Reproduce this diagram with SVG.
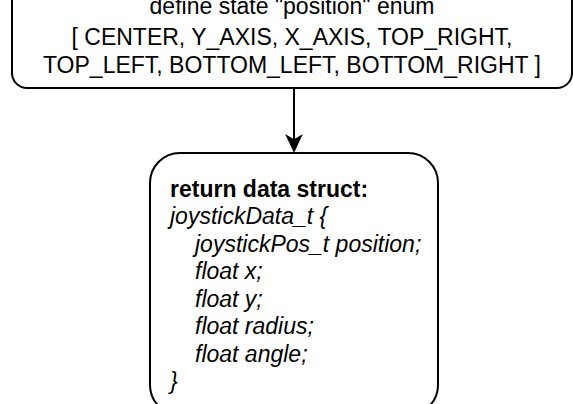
<svg xmlns="http://www.w3.org/2000/svg" width="573" height="404" viewBox="0 0 573 404">
  <style>
    .box { fill: #ffffff; stroke: #000000; stroke-width: 2; }
    .edge { fill: none; stroke: #000000; stroke-width: 2; }
    .head { fill: #000000; stroke: #000000; stroke-width: 1.2; stroke-linejoin: miter; }
    .t { font-family: "Liberation Sans", Arial, sans-serif; font-size: 23px; fill: #000000; }
    .top { text-anchor: middle; }
    .code { font-style: italic; }
    .title { font-weight: bold; }
  </style>

  <rect width="573" height="404" fill="#ffffff"/>

  <!-- state definition node -->
  <g id="define-position">
    <rect class="box" x="12" y="-60" width="560" height="148" rx="15" ry="15"/>
    <text class="t top" x="292" y="14">define state "position" enum</text>
    <text class="t top" x="292" y="44.8">[ CENTER, Y_AXIS, X_AXIS, TOP_RIGHT,</text>
    <text class="t top" x="292" y="72.5">TOP_LEFT, BOTTOM_LEFT, BOTTOM_RIGHT ]</text>
  </g>

  <!-- returned struct node -->
  <g id="return-struct">
    <rect class="box" x="150" y="153" width="288" height="262" rx="30" ry="30"/>
    <text class="t title" x="170" y="196.5">return data struct:</text>
    <text class="t code" x="170" y="224">joystickData_t {</text>
    <text class="t code" x="195" y="251.5">joystickPos_t position;</text>
    <text class="t code" x="195" y="279">float x;</text>
    <text class="t code" x="195" y="306.5">float y;</text>
    <text class="t code" x="195" y="334">float radius;</text>
    <text class="t code" x="195" y="361.5">float angle;</text>
    <text class="t code" x="170" y="389">}</text>
  </g>

  <!-- connectors -->
  <g id="connectors">
    <path class="edge" d="M294,88 L294,140"/>
    <path class="head" d="M294,151.5 L286.5,135.5 L294,140 L301.5,135.5 Z"/>
  </g>
</svg>
